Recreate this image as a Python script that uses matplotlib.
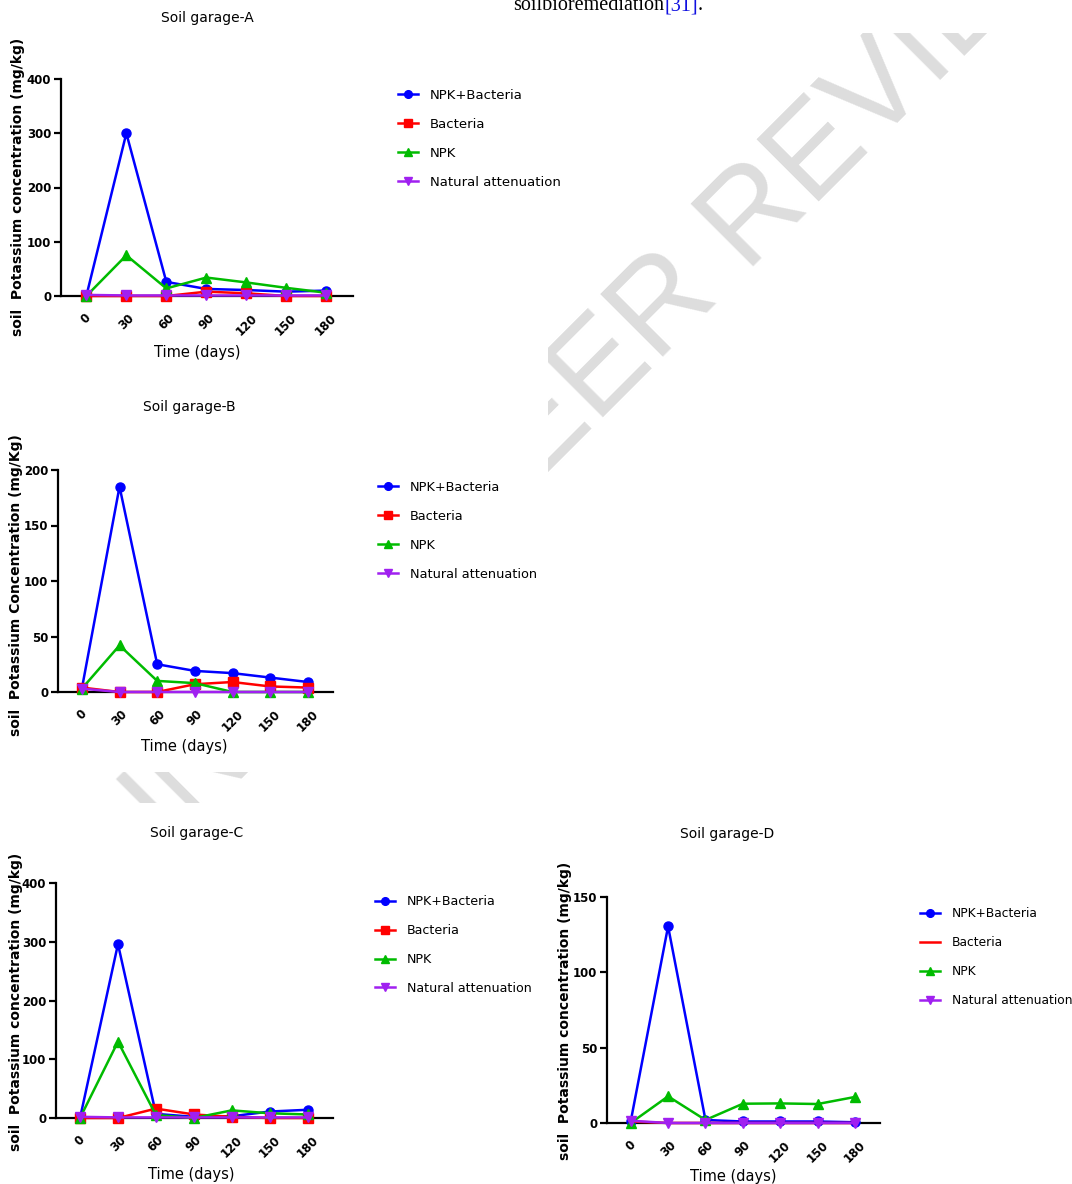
import matplotlib
matplotlib.use("Agg")
import matplotlib.pyplot as plt
from matplotlib.patches import Rectangle
import numpy as np

# sampling days
days = [0, 30, 60, 90, 120, 150, 180]
series_names = ["NPK+Bacteria", "Bacteria", "NPK", "Natural attenuation"]

# Soil garage-A
a_npk_bact = [0, 300, 26, 13, 11, 8, 10]
a_bact = [0, 0, 0, 8, 5, 0, 0]
a_npk = [0, 75, 14, 34, 25, 15, 6]
a_natural = [2, 1, 1, 1, 1, 1, 1]

# Soil garage-B
b_npk_bact = [3, 185, 25, 19, 17, 13, 9]
b_bact = [4, 0, 0, 7, 9, 5, 4]
b_npk = [3, 42, 10, 8, 0, 0, 0]
b_natural = [3, 0, 0, 0, 0, 0, 0]

# Soil garage-C
c_npk_bact = [0, 296, 7, 2, 3, 11, 14]
c_bact = [0, 0, 16, 6, 2, 0, 0]
c_npk = [0, 130, 5, 0, 13, 8, 6]
c_natural = [2, 1, 1, 1, 1, 1, 1]

# Soil garage-D
d_npk_bact = [1, 130.5, 2, 1, 1, 1, 0.5]
d_bact = [1, 0, 0, 0, 0, 0, 0]
d_npk = [0, 17.7, 2, 12.8, 13, 12.6, 17.3]
d_natural = [1.5, 0, 0, 0, 0, 0, 0]

colors = ["#0000FF", "#FF0000", "#00BB00", "#A020F0"]
markers = ["o", "s", "^", "v"]

W, H = 1072, 1184
fig = plt.figure(figsize=(W / 100, H / 100), dpi=100)

SANS = ["DejaVu Sans"]


def px_box(l, t, r, b):
    return [l / W, 1 - b / H, (r - l) / W, (b - t) / H]


def ftext(x, y, s, **kw):
    return fig.text(x / W, 1 - y / H, s, family=SANS, **kw)


# watermark, hidden where the chart images sit
wm_font = dict(fontsize=92, family=["Liberation Sans"])
probe = fig.text(0, 0, "UNDER P", **wm_font)
fig.canvas.draw()
r = fig.canvas.get_renderer()
pre_w = probe.get_window_extent(r).width
probe.remove()
ang = np.deg2rad(45)
# baseline start of the first E of PEER, walk back along the baseline
ex, ey = 536, 1184 - 485
sx, sy = ex - pre_w * np.cos(ang), ey - pre_w * np.sin(ang)
fig.text(sx / W, sy / H, "UNDER PEER REVIEW", rotation=45,
         rotation_mode="anchor", ha="left", va="baseline",
         color="#DDDDDD", zorder=-3, **wm_font)
for (l, t, rr, b) in [(0, 0, W, 33), (0, 0, 548, 772), (0, 803, W, H)]:
    fig.patches.append(Rectangle((l / W, 1 - b / H), (rr - l) / W, (b - t) / H,
                                 transform=fig.transFigure, facecolor="white",
                                 edgecolor="none", zorder=-2))

# cut-off line of body text on top
t1 = fig.text(513 / W, 1 - 10 / H, "soilbioremediation", fontsize=14.5,
              family=["Liberation Serif"], va="baseline", color="black")
t2 = fig.text(0, 0, "[31]", fontsize=14.5, family=["Liberation Serif"],
              color="#1010E0", va="baseline")
t3 = fig.text(0, 0, ".", fontsize=14.5, family=["Liberation Serif"],
              color="black", va="baseline")
bb = t1.get_window_extent(r)
t2.set_position((bb.x1 / W, 1 - 10 / H))
bb2 = t2.get_window_extent(r)
t3.set_position((bb2.x1 / W, 1 - 10 / H))


def panel(box, ymax, ystep, data, title, title_xy, ylab, ylab_xy, xlab_xy,
          leg_xy, leg_size, bact_marker=True):
    ax = fig.add_axes(px_box(*box))
    for i, vals in enumerate(data):
        mk = markers[i]
        if i == 1 and not bact_marker:
            mk = None
        ax.plot(days, vals, color=colors[i], marker=mk, markersize=6.5,
                linewidth=1.8, clip_on=False, label=series_names[i],
                zorder=3 + i)
    ax.set_xlim(-19, 200)
    ax.set_ylim(0, ymax)
    ax.set_yticks(range(0, ymax + 1, ystep))
    ax.set_xticks(days)
    ax.set_xticklabels([str(d) for d in days], rotation=45, ha="center")
    for lab in ax.get_xticklabels() + ax.get_yticklabels():
        lab.set_fontweight("bold")
        lab.set_fontsize(8.5)
        lab.set_family(SANS)
    ax.spines["top"].set_visible(False)
    ax.spines["right"].set_visible(False)
    ax.spines["left"].set_linewidth(1.6)
    ax.spines["bottom"].set_linewidth(1.6)
    ax.tick_params(axis="y", length=5, width=1.6, pad=2)
    ax.tick_params(axis="x", length=0, pad=11)
    ax.set_facecolor("none")

    ftext(title_xy[0], title_xy[1], title, fontsize=10, ha="center",
          va="center")
    ftext(ylab_xy[0], ylab_xy[1], ylab, fontsize=10, fontweight="bold",
          rotation=90, ha="center", va="center")
    ftext(xlab_xy[0], xlab_xy[1], "Time (days)", fontsize=10.5, ha="center",
          va="center")
    rows = 1.15 * 10 / leg_size
    ax.legend(loc="upper left",
              bbox_to_anchor=(leg_xy[0] / W, 1 - leg_xy[1] / H),
              bbox_transform=fig.transFigure, frameon=False,
              borderpad=0, borderaxespad=0, handlelength=1.45 * 10 / leg_size,
              handletextpad=0.85 * 10 / leg_size, labelspacing=rows,
              markerscale=0.85, prop={"family": SANS, "size": leg_size})
    return ax


panel((61, 79, 353, 296), 400, 100,
      [a_npk_bact, a_bact, a_npk, a_natural], "Soil garage-A", (207, 18),
      "soil  Potassium concentration (mg/kg)", (18, 187), (197, 353),
      (398, 89), 9.5)

panel((58, 470, 333, 692), 200, 50,
      [b_npk_bact, b_bact, b_npk, b_natural], "Soil garage-B", (189, 407),
      "soil  Potassium Concentration (mg/Kg)", (16, 585), (184, 746),
      (378, 481), 9.3)

panel((56, 883, 333, 1118), 400, 100,
      [c_npk_bact, c_bact, c_npk, c_natural], "Soil garage-C", (197, 833),
      "soil  Potassium concentration (mg/kg)", (16, 1002), (191, 1174),
      (375, 895), 9.1)

panel((607, 897, 880, 1123), 150, 50,
      [d_npk_bact, d_bact, d_npk, d_natural], "Soil garage-D", (727, 834),
      "soil  Potassium concentration (mg/kg)", (565, 1011), (733, 1176),
      (920, 907), 8.8, bact_marker=False)

fig.savefig("out.png", dpi=100)
